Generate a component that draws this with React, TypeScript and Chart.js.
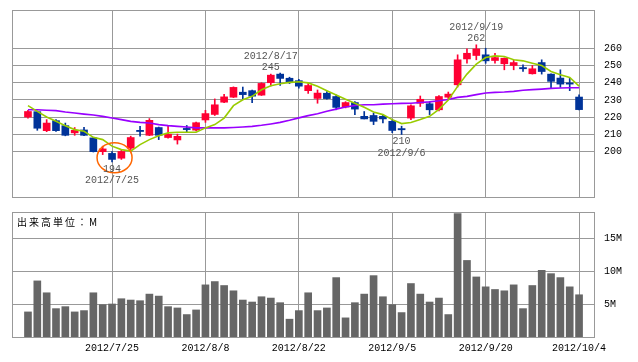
import React, { useEffect, useRef } from "react";
import { Chart, registerables } from "chart.js";

Chart.register(...registerables);

// ---- data ----
const dates = [
  "2012/7/11", "2012/7/12", "2012/7/13", "2012/7/17", "2012/7/18", "2012/7/19", "2012/7/20", "2012/7/23", "2012/7/24", "2012/7/25",
  "2012/7/26", "2012/7/27", "2012/7/30", "2012/7/31", "2012/8/1", "2012/8/2", "2012/8/3", "2012/8/6", "2012/8/7", "2012/8/8",
  "2012/8/9", "2012/8/10", "2012/8/13", "2012/8/14", "2012/8/15", "2012/8/16", "2012/8/17", "2012/8/20", "2012/8/21", "2012/8/22",
  "2012/8/23", "2012/8/24", "2012/8/27", "2012/8/28", "2012/8/29", "2012/8/30", "2012/8/31", "2012/9/3", "2012/9/4", "2012/9/5",
  "2012/9/6", "2012/9/7", "2012/9/10", "2012/9/11", "2012/9/12", "2012/9/13", "2012/9/14", "2012/9/18", "2012/9/19", "2012/9/20",
  "2012/9/21", "2012/9/24", "2012/9/25", "2012/9/26", "2012/9/27", "2012/9/28", "2012/10/1", "2012/10/2", "2012/10/3", "2012/10/4",
];

const gridDates = ["2012/7/25", "2012/8/8", "2012/8/22", "2012/9/5", "2012/9/20", "2012/10/4"];

const openP = [
  220.1, 223.2, 212.2, 218, 215.1, 210.9, 212.6, 208, 200, 199,
  196.2, 202, 211.8, 209.5, 214, 208.2, 206.8, 212.9, 212.5, 218.4,
  221.6, 228.7, 231.6, 234.5, 235.4, 232.8, 240, 245, 242.6, 241.2,
  235.4, 230.9, 233.9, 232, 225.9, 228.5, 220.5, 221, 220.5, 217.6,
  212.8, 219.5, 228.1, 227.8, 224.3, 231.6, 238.8, 253.8, 255.8, 256.2,
  252.9, 251, 250, 248.2, 245.2, 251.7, 245, 242.7, 239.4, 231.7,
];
const highP = [
  224, 223.6, 218.6, 218.6, 216.6, 214, 214.1, 208.3, 203.2, 200,
  200.9, 209, 214.7, 219.2, 214.3, 215, 210.2, 215.2, 217.2, 224,
  230.6, 233.2, 237.6, 237.5, 235.7, 240, 245, 245.6, 243.2, 242,
  239.6, 235.8, 234.9, 232.9, 229, 229, 223.3, 222.4, 221.5, 218.6,
  214.8, 227.2, 232.3, 229.1, 232.5, 234.6, 256.2, 259.6, 262, 260,
  257.1, 254.4, 253.3, 250.4, 250, 253.3, 245.2, 247.5, 242.7, 233,
];
const lowP = [
  219.5, 212.4, 211.6, 211.8, 209.2, 209.5, 209.3, 199.8, 198.3, 194,
  195.5, 201.2, 209, 209.3, 207, 207.8, 204.4, 211.2, 212, 217,
  221, 228.5, 231.4, 230.3, 228.4, 232.6, 238.1, 238.4, 239.5, 236.8,
  233.8, 228.1, 230.5, 224.3, 225.4, 221.5, 219, 215.7, 216.7, 211,
  210, 218.6, 226.2, 221.5, 223.6, 230.2, 237.5, 251.3, 253.3, 251.3,
  251.3, 247.5, 247.5, 246.5, 245, 245, 236.9, 237.3, 235.4, 224.2,
];
const closeP = [
  223.3, 213.6, 216.6, 212.2, 209.5, 212.4, 209.5, 200, 201.6, 195.5,
  200.1, 208.2, 211.7, 218.2, 209.5, 210.1, 208.9, 212.8, 216.8, 222.1,
  227.2, 231.8, 237.3, 233.1, 232.2, 239.6, 244.4, 242.5, 240, 238,
  238.4, 234, 230.8, 225.7, 228.5, 224.7, 219, 217.6, 219, 212.3,
  212.7, 226.6, 230.4, 224.3, 232, 233.4, 253.3, 257.1, 259.6, 252.7,
  254.6, 254.2, 251.7, 248.1, 248.1, 246.5, 240.8, 239.2, 239.2, 224.4,
];

const maShort = [
  226.7, 223.4, 220.1, 217.6, 215.1, 212.8, 211.8, 208.3, 207, 203.2,
  201.2, 200.3, 204.1, 207, 209.3, 210.9, 211.3, 211.3, 211.3, 213.8,
  215.7, 219.5, 226.7, 230.1, 232.1, 235.9, 238.2, 239.4, 240.2, 240.6,
  239.9, 237.9, 235.4, 232.9, 230.4, 228.1, 225.8, 223, 221.5, 218.6,
  216.3, 216.9, 218.6, 220.5, 224.6, 230, 237.9, 245, 250.8, 254.6,
  255.6, 255.2, 253.3, 252.7, 251.3, 250, 246.5, 244.6, 243.1, 238,
];
const maLong = [
  224.3, 224.3, 224, 223.8, 223, 222.4, 221.8, 221.3, 220.5, 219.5,
  218.6, 217.6, 217, 216.6, 215.7, 215.1, 214.7, 214.3, 213.8, 213.8,
  213.8, 213.8, 214, 214.3, 214.7, 215.3, 216.1, 217, 218.2, 219.6,
  220.9, 222, 223.4, 224.7, 225.9, 226.8, 227.2, 227.2, 227.6, 227.8,
  228, 228.1, 228.5, 228.9, 229.5, 230.3, 231.5, 232.1, 233.1, 234,
  234.4, 234.6, 235, 235.6, 236, 236.3, 236.7, 236.9, 237.1, 237.1,
];

const volume = [
  3.8, 8.5, 6.7, 4.3, 4.6, 3.8, 4.0, 6.7, 4.9, 5.0,
  5.8, 5.6, 5.5, 6.5, 6.2, 4.6, 4.4, 3.4, 4.1, 7.9,
  8.4, 7.8, 7.0, 5.6, 5.3, 6.1, 5.9, 5.2, 2.7, 4.0,
  6.7, 4.0, 4.4, 9.0, 2.9, 5.2, 6.5, 9.3, 6.1, 4.9,
  3.7, 8.1, 6.5, 5.3, 5.9, 3.4, 18.7, 11.6, 9.1, 7.6,
  7.2, 7.0, 7.9, 4.3, 7.8, 10.1, 9.6, 9.0, 7.6, 6.4,
];

const priceTicks = [200, 210, 220, 230, 240, 250, 260];
const volumeTicks = [5, 10, 15];
const volumeUnitLabel = "出来高単位：M";

const highNotes = [
  { date: "2012/8/17", value: 245 },
  { date: "2012/9/19", value: 262 },
];
const lowNotes = [
  { date: "2012/7/25", value: 194 },
  { date: "2012/9/6", value: 210 },
];
const circledDate = "2012/7/25";

// ---- styles ----
const UP = "#ff0033";
const DOWN = "#003399";
const GRID = "#999999";
const MONO = '"Liberation Mono", "DejaVu Sans Mono", monospace';

const X_MIN = -1.71;
const X_MAX = 60.6;

const gridIdx = gridDates.map((d) => dates.indexOf(d));

const framePlugin = {
  id: "frame",
  beforeDatasetsDraw(chart: any) {
    const { ctx, chartArea } = chart;
    const l = Math.round(chartArea.left);
    const t = Math.round(chartArea.top);
    const r = Math.round(chartArea.right);
    const b = Math.round(chartArea.bottom);
    ctx.save();
    ctx.strokeStyle = GRID;
    ctx.lineWidth = 1;
    ctx.strokeRect(l + 0.5, t + 0.5, r - l, b - t);
    ctx.restore();
  },
};

const notesPlugin = {
  id: "notes",
  afterDatasetsDraw(chart: any) {
    const { ctx } = chart;
    const xs = chart.scales.x;
    const ys = chart.scales.y;
    ctx.save();
    const ci = dates.indexOf(circledDate);
    ctx.strokeStyle = "#ff6600";
    ctx.lineWidth = 1.5;
    ctx.beginPath();
    ctx.ellipse(xs.getPixelForValue(ci + 0.27), ys.getPixelForValue(lowP[ci] + 2.5), 17.5, 15, 0, 0, Math.PI * 2);
    ctx.stroke();

    ctx.font = "10px " + MONO;
    ctx.fillStyle = "#555555";
    ctx.textAlign = "center";
    ctx.textBaseline = "middle";
    highNotes.forEach((n) => {
      const i = dates.indexOf(n.date);
      const x = xs.getPixelForValue(i);
      const y = ys.getPixelForValue(n.value);
      ctx.fillText(String(n.value), x, y - 6.5);
      ctx.fillText(n.date, x, y - 17.5);
    });
    lowNotes.forEach((n) => {
      const i = dates.indexOf(n.date);
      const x = xs.getPixelForValue(i);
      const y = ys.getPixelForValue(n.value);
      ctx.fillText(String(n.value), x, y + 7);
      ctx.fillText(n.date, x, y + 18.5);
    });
    ctx.restore();
  },
};

const unitPlugin = {
  id: "unit",
  afterDraw(chart: any) {
    const { ctx, chartArea } = chart;
    ctx.save();
    ctx.font = '10px "Noto Sans CJK JP", sans-serif';
    (ctx as any).letterSpacing = "2px";
    ctx.fillStyle = "#000";
    ctx.textAlign = "left";
    ctx.textBaseline = "middle";
    ctx.fillText(volumeUnitLabel, chartArea.left + 5, chartArea.top + 10.5);
    ctx.restore();
  },
};

function xAxis(showLabels: boolean, height: number) {
  return {
    type: "linear" as const,
    min: X_MIN,
    max: X_MAX,
    offset: false,
    afterBuildTicks: (s: any) => {
      s.ticks = gridIdx.map((v) => ({ value: v }));
    },
    afterFit: (s: any) => {
      s.height = height;
      s.paddingLeft = 0;
      s.paddingRight = 0;
    },
    ticks: {
      display: showLabels,
      padding: 5,
      maxRotation: 0,
      autoSkip: false,
      color: "#000",
      font: { family: MONO, size: 10 },
      callback: (v: any) => dates[v as number] ?? "",
    },
    grid: { color: GRID, drawTicks: false, offset: false, lineWidth: 1 },
    border: { display: false },
  };
}

function yAxis(min: number, max: number, ticks: number[], fmt: (v: number) => string) {
  return {
    type: "linear" as const,
    position: "right" as const,
    min,
    max,
    afterBuildTicks: (s: any) => {
      s.ticks = ticks.map((v) => ({ value: v }));
    },
    afterFit: (s: any) => {
      s.width = 44;
      s.paddingTop = 0;
      s.paddingBottom = 0;
    },
    ticks: {
      padding: 10,
      color: "#000",
      font: { family: MONO, size: 10 },
      callback: (v: any) => fmt(v as number),
    },
    grid: { color: GRID, drawTicks: false, lineWidth: 1 },
    border: { display: false },
  };
}

export default function App() {
  const priceRef = useRef<HTMLCanvasElement>(null);
  const volRef = useRef<HTMLCanvasElement>(null);

  useEffect(() => {
    const candleColors = openP.map((o, i) => (closeP[i] > o ? UP : DOWN));

    const price = new Chart(priceRef.current as HTMLCanvasElement, {
      type: "bar",
      data: {
        datasets: [
          {
            type: "line",
            label: "short MA",
            data: maShort.map((v, i) => ({ x: i, y: v })),
            borderColor: "#99cc00",
            borderWidth: 1.6,
            pointRadius: 0,
            tension: 0,
            order: 0,
          },
          {
            type: "line",
            label: "long MA",
            data: maLong.map((v, i) => ({ x: i, y: v })),
            borderColor: "#9900ff",
            borderWidth: 1.6,
            pointRadius: 0,
            tension: 0,
            order: 1,
          },
          {
            type: "bar",
            label: "body",
            data: openP.map((o, i) => ({ x: i, y: [o, closeP[i]] })),
            backgroundColor: candleColors,
            barThickness: 7,
            minBarLength: 1.2,
            grouped: false,
            order: 2,
          },
          {
            type: "bar",
            label: "wick",
            data: lowP.map((l, i) => ({ x: i, y: [l, highP[i]] })),
            backgroundColor: candleColors,
            barThickness: 1,
            grouped: false,
            order: 3,
          },
        ] as any,
      },
      options: {
        animation: false,
        responsive: false,
        devicePixelRatio: 1,
        layout: { padding: { left: 12, top: 10, right: 0, bottom: 8 } },
        plugins: { legend: { display: false }, tooltip: { enabled: false } },
        scales: {
          x: xAxis(false, 0) as any,
          y: yAxis(173.7, 282.2, priceTicks, (v) => String(v)) as any,
        },
      },
      plugins: [framePlugin, notesPlugin],
    });

    const vol = new Chart(volRef.current as HTMLCanvasElement, {
      type: "bar",
      data: {
        datasets: [
          {
            label: "volume",
            data: volume.map((v, i) => ({ x: i, y: v })),
            backgroundColor: "#666666",
            barThickness: 7,
            grouped: false,
          },
        ] as any,
      },
      options: {
        animation: false,
        responsive: false,
        devicePixelRatio: 1,
        layout: { padding: { left: 12, top: 7, right: 0, bottom: 0 } },
        plugins: { legend: { display: false }, tooltip: { enabled: false } },
        scales: {
          x: xAxis(true, 25) as any,
          y: yAxis(0, 18.94, volumeTicks, (v) => v + "M") as any,
        },
      },
      plugins: [framePlugin, unitPlugin],
    });

    return () => {
      price.destroy();
      vol.destroy();
    };
  }, []);

  return (
    <div style={{ position: "absolute", left: 0, top: 0, width: 638, height: 362, background: "#fff" }}>
      <canvas ref={priceRef} width={638} height={205} style={{ position: "absolute", left: 0, top: 0 }} />
      <canvas ref={volRef} width={638} height={157} style={{ position: "absolute", left: 0, top: 205 }} />
    </div>
  );
}
